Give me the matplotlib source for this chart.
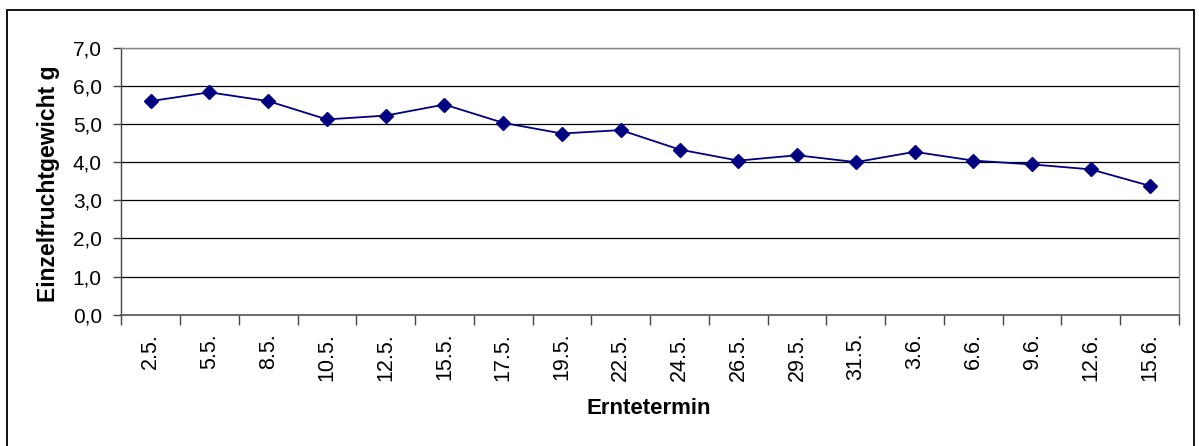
import matplotlib
matplotlib.use("Agg")
import matplotlib.pyplot as plt
from matplotlib.patches import Rectangle

categories = ["2.5.", "5.5.", "8.5.", "10.5.", "12.5.", "15.5.", "17.5.", "19.5.", "22.5.",
              "24.5.", "26.5.", "29.5.", "31.5.", "3.6.", "6.6.", "9.6.", "12.6.", "15.6."]
values = [5.60, 5.83, 5.60, 5.12, 5.22, 5.51, 5.03, 4.75, 4.84,
          4.33, 4.04, 4.18, 4.00, 4.27, 4.04, 3.94, 3.81, 3.38]
yticks = [0, 1, 2, 3, 4, 5, 6, 7]
ytick_labels = ["0,0", "1,0", "2,0", "3,0", "4,0", "5,0", "6,0", "7,0"]

plt.rcParams['font.family'] = ['Liberation Sans', 'DejaVu Sans']

fig = plt.figure(figsize=(11.99, 4.46), dpi=100)
fig.patches.append(Rectangle((7/1199, -0.05), (1194-7)/1199, (446-10)/446 + 0.05,
                             transform=fig.transFigure, fill=False, edgecolor='black',
                             linewidth=1.3, zorder=0))
ax = fig.add_axes([121.3/1199, 1 - 314.7/446, (1179-121.3)/1199, (314.7-47.7)/446])

x = list(range(len(categories)))
ax.plot(x, values, color='#000080', linewidth=1.3, marker='D', markersize=7.5,
        markerfacecolor='#000080', markeredgecolor='#000080', zorder=3)

ax.set_xlim(-0.5, len(categories) - 0.5)
ax.set_ylim(0, 7)
ax.set_yticks(yticks)
ax.set_yticklabels(ytick_labels, fontsize=15)
ax.yaxis.grid(True, color='black', linewidth=0.9)
ax.set_axisbelow(True)

ax.set_xticks(x)
ax.set_xticklabels(categories, rotation=90, fontsize=15.5)
ax.tick_params(axis='x', length=0, pad=13)
ax.set_xticks([i - 0.5 for i in range(len(categories) + 1)], minor=True)
ax.tick_params(axis='x', which='minor', length=7, width=1, color='#444444')
ax.tick_params(axis='y', length=6, width=1, color='#444444', pad=8)

for s in ['top', 'right']:
    ax.spines[s].set_color('#888888')
    ax.spines[s].set_linewidth(1)
ax.spines['left'].set_color('#444444')
ax.spines['bottom'].set_color('#555555')
ax.spines['left'].set_linewidth(1)
ax.spines['bottom'].set_linewidth(1.2)

ax.set_ylabel("Einzelfruchtgewicht g", fontsize=16.5, fontweight='bold')
ax.yaxis.set_label_coords(-0.058, 0.49)
ax.set_xlabel("Erntetermin", fontsize=16, fontweight='bold')
ax.xaxis.set_label_coords(0.4985, -0.312)

fig.savefig("out.png", dpi=100)
